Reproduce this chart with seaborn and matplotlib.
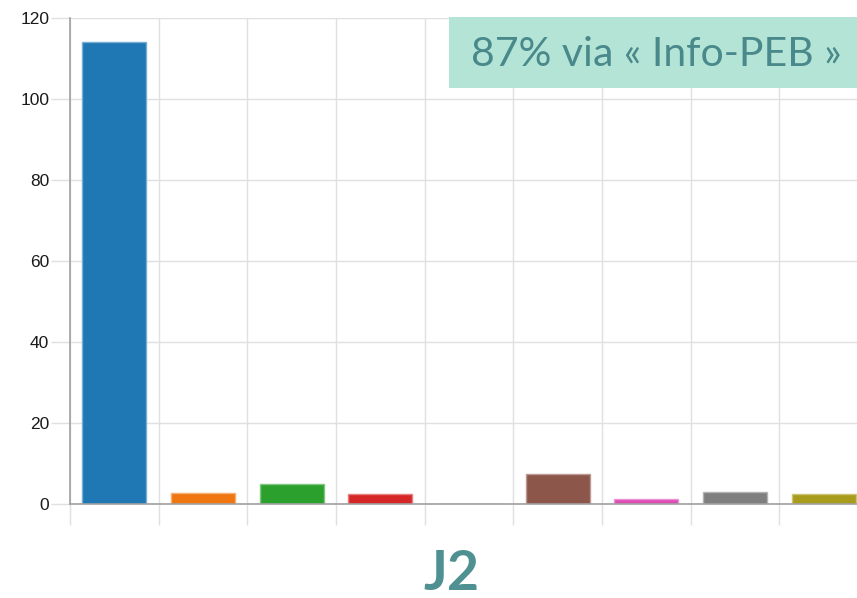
import matplotlib
matplotlib.use("Agg")
import matplotlib.pyplot as plt
import matplotlib.colors as mcolors
from matplotlib.patches import Rectangle
import seaborn as sns
import pandas as pd

categories = ["C1", "C2", "C3", "C4", "C5", "C6", "C7", "C8", "C9"]
values = [114, 2.8, 5, 2.4, 0, 7.3, 1.2, 2.9, 2.4]
colors = ["#1f77b4", "#ef7610", "#2ca02c", "#d62728", "#9467bd",
          "#8c564b", "#dd4db5", "#7f7f7f", "#a99c1c"]
y_ticks = [0, 20, 40, 60, 80, 100, 120]
box_text = "87% via « Info-PEB »"
title_text = "J2"

sns.set_style("white")
plt.rcParams['font.family'] = ['Liberation Sans', 'DejaVu Sans']

W, H = 857, 598
fig = plt.figure(figsize=(W / 100, H / 100), dpi=100)
ax = fig.add_axes([70 / W, 94 / H, (868 - 70) / W, 486 / H])

df = pd.DataFrame({"cat": categories, "val": values})
sns.barplot(data=df, x="cat", y="val", hue="cat", palette=colors,
            width=0.72, legend=False, ax=ax, saturation=1)

for p, c in zip(ax.patches, colors):
    rgb = mcolors.to_rgb(c)
    light = tuple(0.6 * v + 0.4 for v in rgb)
    p.set_edgecolor(light)
    p.set_linewidth(1.0)

ax.set_xlim(-0.5, len(categories) - 0.5)
ax.set_ylim(0, 120)
ax.set_yticks(y_ticks)
ax.set_xticks([i - 0.5 for i in range(len(categories) + 1)])
ax.set_xticklabels([])
ax.set_xlabel("")
ax.set_ylabel("")

grid_c = "#e0e0e0"
ax.grid(True, color=grid_c, linewidth=1.0)
ax.set_axisbelow(True)
ax.tick_params(axis="x", bottom=True, length=15, width=1.0, color=grid_c)
ax.tick_params(axis="y", left=True, length=14, width=1.0, color=grid_c,
               labelsize=12.5, labelcolor="#1a1a1a", pad=1)
for s in ["top", "right"]:
    ax.spines[s].set_visible(False)
for s in ["left", "bottom"]:
    ax.spines[s].set_color("#a0a0a0")
    ax.spines[s].set_linewidth(1.2)
ax.spines["left"].set_zorder(3)
ax.spines["bottom"].set_zorder(3)

# annotation box
fig.patches.append(Rectangle((449 / W, 1 - 88 / H), (W - 449) / W, 71 / H,
                             transform=fig.transFigure, facecolor="#b3e4d6",
                             edgecolor="none", zorder=5))
fig.text(656 / W, 1 - 54 / H, box_text, ha="center", va="center",
         fontsize=29.5, color="#4a898b", family=["Lato", "DejaVu Sans"],
         fontweight="normal", zorder=6)

fig.text(451 / W, 1 - 574 / H, title_text, ha="center", va="center",
         fontsize=40, color="#4f9192", fontweight="bold",
         family=["Lato", "DejaVu Sans"])

fig.savefig("out.png", dpi=100)
